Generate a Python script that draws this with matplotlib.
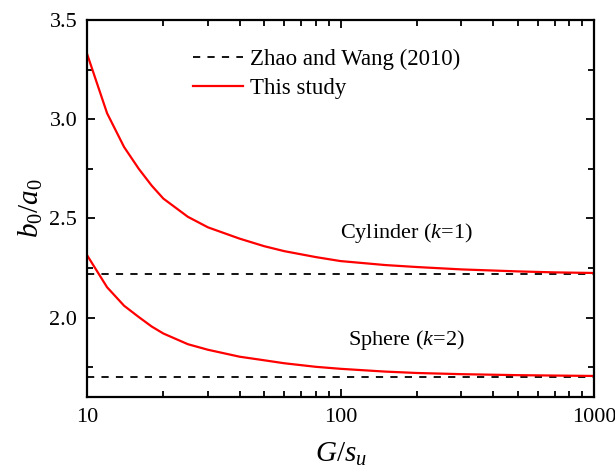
import numpy as np
import matplotlib
matplotlib.use('Agg')
import matplotlib.pyplot as plt

plt.rcParams['font.family'] = 'Liberation Serif'
plt.rcParams['mathtext.fontset'] = 'custom'
plt.rcParams['mathtext.rm'] = 'Liberation Serif'
plt.rcParams['mathtext.it'] = 'Liberation Serif:italic'

# G/s_u sample points and b0/a0
g_su = [10, 12, 14, 16, 18, 20, 25, 30, 40, 50, 60, 80, 100, 150, 200, 300, 500, 700, 1000]
cyl = [3.33, 3.03, 2.86, 2.75, 2.665, 2.60, 2.508, 2.455, 2.398, 2.36, 2.335, 2.305, 2.285,
       2.265, 2.255, 2.243, 2.233, 2.228, 2.225]
sph = [2.315, 2.153, 2.06, 2.003, 1.955, 1.92, 1.866, 1.838, 1.803, 1.785, 1.77, 1.752, 1.742,
       1.728, 1.721, 1.715, 1.71, 1.708, 1.706]
zhao_cyl = 2.22
zhao_sph = 1.70

fig = plt.figure(figsize=(6.15, 4.73), dpi=100)
ax = fig.add_axes([0.1415, 0.1607, 0.8244, 0.797])

ax.axhline(zhao_cyl, color='k', ls=(0, (4, 4)), lw=1.3, label='Zhao and Wang (2010)')
ax.axhline(zhao_sph, color='k', ls=(0, (4, 4)), lw=1.3)
ax.plot(g_su, cyl, color='red', lw=1.6, label='This study')
ax.plot(g_su, sph, color='red', lw=1.6)

ax.set_xscale('log')
ax.set_xlim(10, 1000)
ax.set_ylim(1.6, 3.5)
ax.set_yticks([2.0, 2.5, 3.0, 3.5])
ax.set_yticks(np.arange(1.75, 3.5, 0.5), minor=True)
ax.set_xticks([10, 100, 1000])
ax.set_xticklabels(['10', '100', '1000'])
ax.yaxis.set_major_formatter(matplotlib.ticker.FormatStrFormatter('%.1f'))

ax.tick_params(which='both', direction='in', top=True, right=True, labelsize=16, width=1.3)
ax.tick_params(which='major', length=6, pad=8)
ax.tick_params(which='minor', length=4)
ax.tick_params(axis='y', pad=7)
for s in ax.spines.values():
    s.set_linewidth(1.6)

ax.text(0.63, 0.435, 'Cylinder ($k$=1)', ha='center', va='center', fontsize=16,
        transform=ax.transAxes)
ax.text(0.63, 0.151, 'Sphere ($k$=2)', ha='center', va='center', fontsize=16,
        transform=ax.transAxes)

ax.set_xlabel('$G/s_u$', fontsize=21, labelpad=10)
ax.set_ylabel('$b_0/a_0$', fontsize=21, labelpad=3)

ax.legend(loc='center left', bbox_to_anchor=(0.19, 0.857), frameon=False, fontsize=16.5,
          handlelength=2.2, handletextpad=0.3, borderaxespad=0, labelspacing=0.35)

fig.savefig('out.png', dpi=100)
